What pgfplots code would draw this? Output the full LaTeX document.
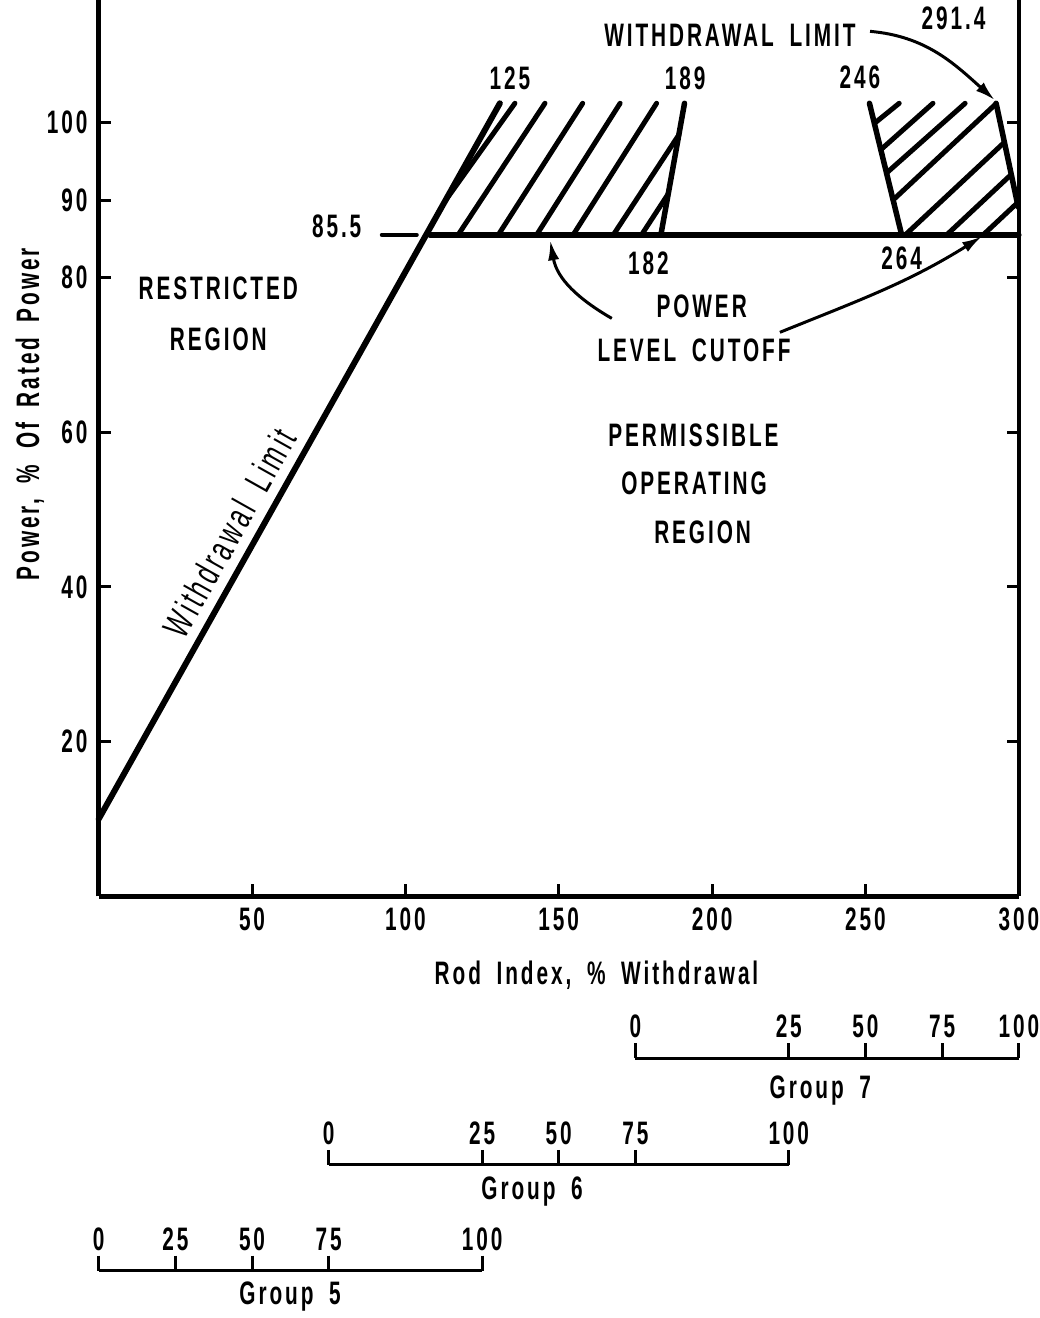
\documentclass[border=0pt]{standalone}
\usepackage{fontspec}
\setmainfont{Liberation Sans}[FakeStretch=0.64, LetterSpace=9, WordSpace=1.8]
\usepackage{pgfplots}
\pgfplotsset{compat=1.18}
\usetikzlibrary{arrows.meta}

% 1 px of the scan = 0.4pt; x: 3.067 px per unit, y: 7.7375 px per unit
\pgfplotsset{
  bound/.style={black, line width=2.2pt, line cap=round, line join=round, no markers},
  hatch/.style={black, line width=2pt, line cap=round, no markers},
  groupscale/.style={
    x=1.2268pt, y=1pt, ymin=0, ymax=1,
    axis y line=none, axis x line*=top,
    tick align=outside, major tick length=6pt,
    axis line style={line width=1.2pt},
    every tick/.style={black, line width=1.2pt},
    xticklabel style={yshift=-2.5pt},
    clip=false,
  },
}
\tikzset{callout/.style={-{Latex[length=8pt,width=4.5pt]}, line width=1.2pt}}

\begin{document}
\fontsize{13}{15.6}\selectfont\bfseries
\begin{tikzpicture}
\begin{axis}[
  name=main,
  x=1.2268pt, y=3.095pt,
  xmin=0, xmax=300, ymin=0, ymax=115.85,
  axis x line*=bottom, axis y line*=left,
  axis line style={line width=1.8pt},
  tick align=inside, major tick length=4.8pt,
  every tick/.style={black, line width=1.2pt},
  xtick={50,100,150,200,250,300},
  ytick={20,40,60,80,90,100},
  /pgf/number format/assume math mode=true,
  xlabel={Rod Index, \% Withdrawal},
  ylabel={Power, \% Of Rated Power},
  xlabel style={at={(axis description cs:0.541,-0.0877)}, anchor=center},
  ylabel style={at={(axis description cs:-0.0747,0.538)}, anchor=center},
  clip=false,
]
% withdrawal limit and power level cutoff
\addplot[bound, line width=2.4pt] coordinates {(0,10) (130.8,102.5)};
\addplot[bound] coordinates {(108,85.5) (300,85.5)};
\addplot[bound, line width=1.6pt] coordinates {(92.3,85.5) (103.7,85.5)};

% first hatched region
\addplot[bound] coordinates {(183.3,85.5) (191,102.5)};
\addplot[hatch] coordinates {(113,89.9) (135.7,102.5)};
\addplot[hatch] coordinates {(117.2,85.5) (145.5,102.5)};
\addplot[hatch] coordinates {(130.3,85.5) (157.8,102.5)};
\addplot[hatch] coordinates {(142.8,85.5) (170,102.5)};
\addplot[hatch] coordinates {(154.7,85.5) (181.9,102.5)};
\addplot[hatch] coordinates {(167.8,85.5) (189.2,98.45)};
\addplot[hatch] coordinates {(177,85.5) (185.7,90.8)};

% second hatched region
\addplot[bound] coordinates {(251.3,102.5) (261.8,85.5)};
\addplot[bound] coordinates {(292.6,102.5) (299.8,89.1)};
\addplot[hatch] coordinates {(252.9,99.9) (261,102.5)};
\addplot[hatch] coordinates {(255,96.5) (272,102.5)};
\addplot[hatch] coordinates {(256.9,93.5) (282.5,102.5)};
\addplot[hatch] coordinates {(259,90) (292.6,102.45)};
\addplot[hatch] coordinates {(263,85.5) (295.3,97.46)};
\addplot[hatch] coordinates {(276.5,85.5) (297.5,93.29)};
\addplot[hatch] coordinates {(288.4,85.5) (299.5,89.62)};

% labels
\node at (axis cs:134.1,105.7) {125};
\node at (axis cs:191.2,105.7) {189};
\node at (axis cs:248.2,105.9) {246};
\node at (axis cs:278.7,113.5) {291.4};
\node at (axis cs:77.6,86.6) {85.5};
\node at (axis cs:179.2,81.8) {182};
\node at (axis cs:261.8,82.5) {264};
\node at (axis cs:205.8,111.3) {WITHDRAWAL LIMIT};
\node[align=center, text depth=0pt] at (axis cs:39,75.3) {RESTRICTED\\[5pt]REGION};
\node at (axis cs:196.6,76.2) {POWER};
\node at (axis cs:194.1,70.6) {LEVEL CUTOFF};
\node at (axis cs:193.9,59.6) {PERMISSIBLE};
\node at (axis cs:194.1,53.4) {OPERATING};
\node at (axis cs:196.9,47.1) {REGION};
\node[rotate=60.7, font=\mdseries\fontsize{15}{18}\selectfont] at (axis cs:42.6,47) {Withdrawal Limit};

% call-out arrows
\draw[callout] (axis cs:251.5,111.8) to[out=-5, in=138] (axis cs:292.2,102.9);
\draw[callout] (axis cs:167.3,74.7) to[out=150, in=-80] (axis cs:147.2,84.8);
\draw[callout] (axis cs:222.1,72.9) to[out=22, in=-148] (axis cs:288,85.3);

\coordinate (g7) at (axis cs:175,-20.92);
\coordinate (g6) at (axis cs:75,-34.71);
\coordinate (g5) at (axis cs:0,-48.37);
\end{axis}

% right-hand frame line with its ticks
\begin{axis}[
  at={(main.south west)}, anchor=south west,
  x=1.2268pt, y=3.095pt,
  xmin=0, xmax=300, ymin=0, ymax=115.85,
  axis x line=none, axis y line*=right,
  axis line style={line width=1.8pt},
  tick align=inside, major tick length=4.8pt,
  every tick/.style={black, line width=1.2pt},
  ytick={20,40,60,80,100}, yticklabels={},
]
\end{axis}

% group withdrawal scales
\begin{axis}[groupscale, at={(g7)}, anchor=north west,
  xmin=175, xmax=300, xtick={175,225,250,275,300}, xticklabels={0,25,50,75,100}]
\node at (axis cs:235.3,-11.8) {Group 7};
\end{axis}
\begin{axis}[groupscale, at={(g6)}, anchor=north west,
  xmin=75, xmax=225, xtick={75,125,150,175,225}, xticklabels={0,25,50,75,100}]
\node at (axis cs:141.3,-9.8) {Group 6};
\end{axis}
\begin{axis}[groupscale, at={(g5)}, anchor=north west,
  xmin=0, xmax=125, xtick={0,25,50,75,125}, xticklabels={0,25,50,75,100}]
\node at (axis cs:62.4,-9.5) {Group 5};
\end{axis}

\pgfresetboundingbox
\path (main.south west) ++(-39.48pt,-168.64pt) rectangle ++(415.6pt,527.2pt);
\end{tikzpicture}
\end{document}
